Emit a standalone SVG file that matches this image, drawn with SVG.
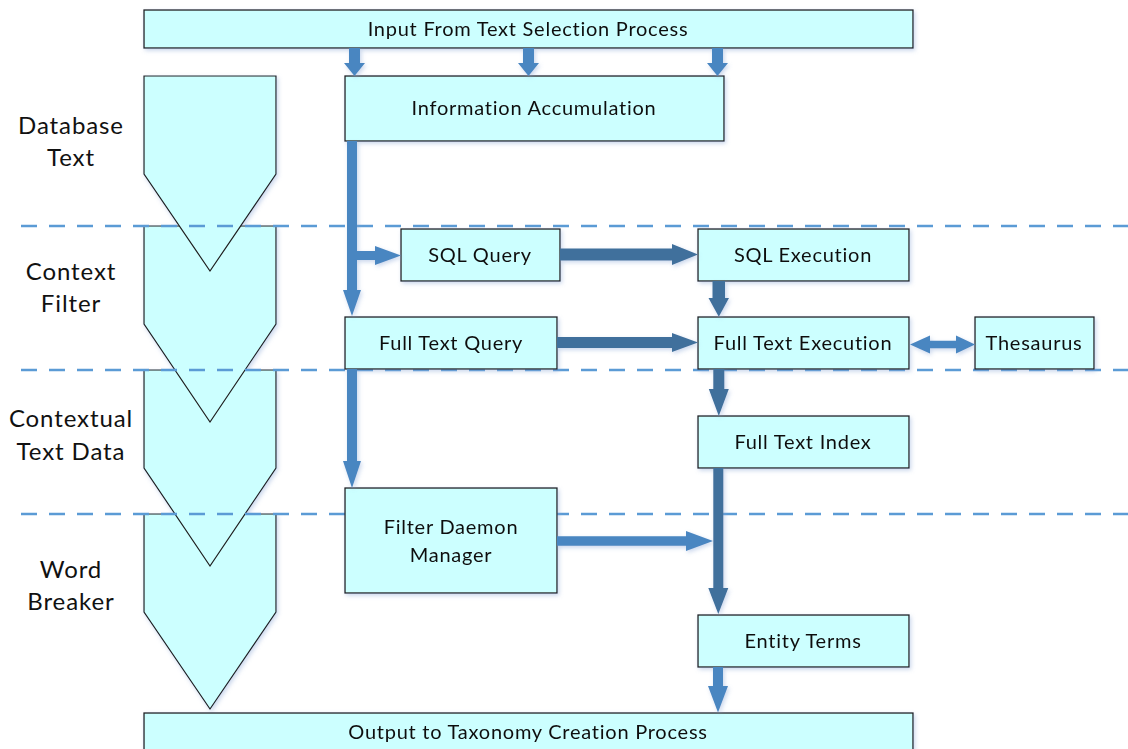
<svg xmlns="http://www.w3.org/2000/svg" width="1128" height="749" viewBox="0 0 1128 749">
  <defs>
    <filter id="soft" x="-10%" y="-10%" width="125%" height="130%">
      <feDropShadow dx="1.5" dy="2" stdDeviation="2" flood-color="#8aa6d6" flood-opacity="0.45"/>
    </filter>
  </defs>
  <style>
    .box { fill: #CCFFFF; stroke: #1f1f1f; stroke-width: 1.3; }
    .chev { fill: #CCFFFF; stroke: #1f1f1f; stroke-width: 1.2; stroke-linejoin: miter; }
    .lane { stroke: #5B9BD5; stroke-width: 2.4; stroke-dasharray: 16 12; fill: none; }
    .lt { fill: #4A86C1; }
    .dk { fill: #41709C; }
    .lbl { font-family: Lato, "Liberation Sans", sans-serif; font-size: 20px; letter-spacing: 0.75px; fill: #111; text-anchor: middle; }
    .side { font-family: Lato, "Liberation Sans", sans-serif; font-size: 24px; letter-spacing: 0.9px; fill: #111; text-anchor: middle; }
  </style>

  <!-- stage chevrons, drawn bottom-up so each point lies over the next stage -->
  <g id="stages" filter="url(#soft)">
    <polygon class="chev" points="144,514 276,514 276,612 210,709 144,612"/>
    <polygon class="chev" points="144,370 276,370 276,468 210,566 144,468"/>
    <polygon class="chev" points="144,226 276,226 276,324 210,422 144,324"/>
    <polygon class="chev" points="144,76 276,76 276,174 210,271 144,174"/>
  </g>

  <!-- stage labels -->
  <g id="stage-labels">
    <text class="side" x="71" y="134">Database</text>
    <text class="side" x="71" y="166">Text</text>
    <text class="side" x="71" y="280">Context</text>
    <text class="side" x="71" y="312">Filter</text>
    <text class="side" x="71" y="427">Contextual</text>
    <text class="side" x="71" y="460">Text Data</text>
    <text class="side" x="71" y="578">Word</text>
    <text class="side" x="71" y="610">Breaker</text>
  </g>

  <!-- stage boundaries -->
  <g id="lanes">
    <line class="lane" x1="21" y1="226" x2="1128" y2="226"/>
    <line class="lane" x1="21" y1="370" x2="1128" y2="370"/>
    <line class="lane" x1="21" y1="514" x2="1128" y2="514"/>
  </g>

  <!-- process boxes -->
  <g id="input" filter="url(#soft)">
    <rect class="box" x="144" y="10" width="769" height="38"/>
    <text class="lbl" x="528" y="36">Input From Text Selection Process</text>
  </g>
  <g id="info-accumulation" filter="url(#soft)">
    <rect class="box" x="345" y="76" width="379" height="65"/>
    <text class="lbl" x="534" y="115">Information Accumulation</text>
  </g>
  <g id="sql-query" filter="url(#soft)">
    <rect class="box" x="401" y="229" width="159" height="52"/>
    <text class="lbl" x="480" y="262">SQL Query</text>
  </g>
  <g id="sql-execution" filter="url(#soft)">
    <rect class="box" x="698" y="229" width="211" height="52"/>
    <text class="lbl" x="803" y="262">SQL Execution</text>
  </g>
  <g id="full-text-query" filter="url(#soft)">
    <rect class="box" x="345" y="317" width="212" height="52"/>
    <text class="lbl" x="451" y="350">Full Text Query</text>
  </g>
  <g id="full-text-execution" filter="url(#soft)">
    <rect class="box" x="698" y="317" width="211" height="52"/>
    <text class="lbl" x="803" y="350">Full Text Execution</text>
  </g>
  <g id="thesaurus" filter="url(#soft)">
    <rect class="box" x="975" y="317" width="119" height="52"/>
    <text class="lbl" x="1034" y="350">Thesaurus</text>
  </g>
  <g id="full-text-index" filter="url(#soft)">
    <rect class="box" x="698" y="416" width="211" height="52"/>
    <text class="lbl" x="803" y="449">Full Text Index</text>
  </g>
  <g id="filter-daemon-manager" filter="url(#soft)">
    <rect class="box" x="345" y="488" width="212" height="105"/>
    <text class="lbl" x="451" y="534">Filter Daemon</text>
    <text class="lbl" x="451" y="562">Manager</text>
  </g>
  <g id="entity-terms" filter="url(#soft)">
    <rect class="box" x="698" y="615" width="211" height="52"/>
    <text class="lbl" x="803" y="648">Entity Terms</text>
  </g>
  <g id="output" filter="url(#soft)">
    <rect class="box" x="144" y="713" width="769" height="40"/>
    <text class="lbl" x="528" y="739">Output to Taxonomy Creation Process</text>
  </g>

  <!-- block-arrow connectors -->
  <g id="connectors" filter="url(#soft)">
    <!-- input to information accumulation -->
    <polygon class="lt" points="349,48 360,48 360,63 365,63 354.5,76 344,63 349,63"/>
    <polygon class="lt" points="523,48 534,48 534,63 539,63 528.5,76 518,63 523,63"/>
    <polygon class="lt" points="712,48 723,48 723,63 728,63 717.5,76 707,63 712,63"/>
    <!-- information accumulation down to full text query -->
    <polygon class="lt" points="347,141 357,141 357,290 361,290 352,316 343,290 347,290"/>
    <!-- branch to sql query -->
    <polygon class="lt" points="357,251 375,251 375,246 401,255.5 375,265 375,260 357,260"/>
    <!-- full text query down to filter daemon manager -->
    <polygon class="lt" points="347,369 357,369 357,461 361,461 352,488 343,461 347,461"/>
    <!-- sql query to sql execution -->
    <polygon class="dk" points="560,248.5 672,248.5 672,244 698,254.5 672,265 672,260.5 560,260.5"/>
    <!-- full text query to full text execution -->
    <polygon class="dk" points="557,337 672,337 672,333 698,342.5 672,352 672,348 557,348"/>
    <!-- sql execution to full text execution -->
    <polygon class="dk" points="712.5,281 725,281 725,298 729,298 718.8,316.7 708.5,298 712.5,298"/>
    <!-- full text execution to thesaurus (two-way) -->
    <polygon class="lt" points="910,344.5 930,335.5 930,340.7 956,340.7 956,335.5 975,344.5 956,353.5 956,348.3 930,348.3 930,353.5"/>
    <!-- full text execution to full text index -->
    <polygon class="dk" points="713.3,369 724.3,369 724.3,389 728.8,389 718.8,416 708.8,389 713.3,389"/>
    <!-- full text index to entity terms -->
    <polygon class="dk" points="713.3,468 723.3,468 723.3,588 728.3,588 718.3,614 708.3,588 713.3,588"/>
    <!-- filter daemon manager into the index feed -->
    <polygon class="lt" points="557,536.2 686,536.2 686,531 713,541 686,551 686,545.8 557,545.8"/>
    <!-- entity terms to output -->
    <polygon class="lt" points="713,667 723,667 723,686 728,686 718,712.5 708,686 713,686"/>
  </g>
</svg>
